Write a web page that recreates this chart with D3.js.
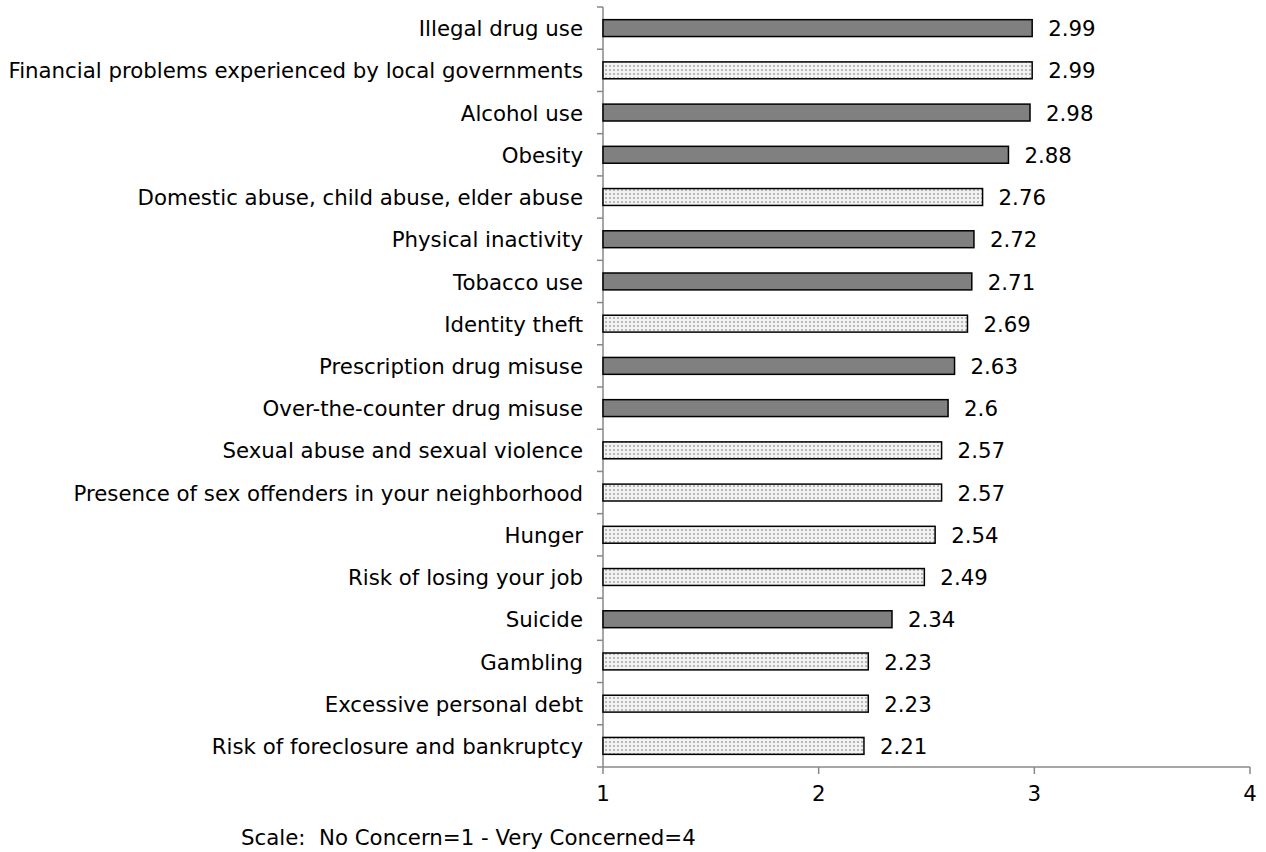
<!DOCTYPE html>
<html><head><meta charset="utf-8">
<script src="https://cdn.jsdelivr.net/npm/d3@7"></script>
<style>body{margin:0;background:#fff}svg{display:block}text{font-family:"DejaVu Sans",Verdana,sans-serif}</style>
</head><body><svg id="c" width="1266" height="852"></svg>
<script>
const categories = ["Illegal drug use","Financial problems experienced by local governments","Alcohol use","Obesity","Domestic abuse, child abuse, elder abuse","Physical inactivity","Tobacco use","Identity theft","Prescription drug misuse","Over-the-counter drug misuse","Sexual abuse and sexual violence","Presence of sex offenders in your neighborhood","Hunger","Risk of losing your job","Suicide","Gambling","Excessive personal debt","Risk of foreclosure and bankruptcy"];
const values = [2.99,2.99,2.98,2.88,2.76,2.72,2.71,2.69,2.63,2.6,2.57,2.57,2.54,2.49,2.34,2.23,2.23,2.21];
const kinds = ["solid","dotted","solid","solid","dotted","solid","solid","dotted","solid","solid","dotted","dotted","dotted","dotted","solid","dotted","dotted","dotted"];
const xTicks = [1,2,3,4];
const footnote = "Scale:\u00a0\u00a0No Concern=1 - Very Concerned=4";

const FS = 21.3;
const svg = d3.select("#c");
const defs = svg.append("defs");
const pat = defs.append("pattern").attr("id","dots").attr("patternUnits","userSpaceOnUse").attr("width",4).attr("height",4);
pat.append("rect").attr("width",4).attr("height",4).attr("fill","#f2f2f2");
pat.append("rect").attr("x",1).attr("y",1).attr("width",2).attr("height",2).attr("fill","#b8b8b8");

const x = d3.scaleLinear().domain([1,4]).range([603,1250]);
const y = d3.scaleBand().domain(categories).range([7,767]).paddingInner(0.6).paddingOuter(0.3);
const yb = d3.scaleBand().domain(categories).range([7,767]);

const axisColor = "#888";
svg.append("line").attr("x1",x(1)).attr("x2",x(1)).attr("y1",7).attr("y2",767).attr("stroke",axisColor).attr("stroke-width",1.5);
const bounds = categories.map(c=>yb(c)).concat([767]);
svg.selectAll(".yt").data(bounds).enter().append("line")
  .attr("x1",x(1)-6).attr("x2",x(1)).attr("y1",d=>d).attr("y2",d=>d).attr("stroke",axisColor).attr("stroke-width",1.5);
svg.append("line").attr("x1",x(1)).attr("x2",x(4)).attr("y1",767).attr("y2",767).attr("stroke",axisColor).attr("stroke-width",1.5);
svg.selectAll(".xt").data(xTicks).enter().append("line")
  .attr("x1",d=>x(d)).attr("x2",d=>x(d)).attr("y1",767).attr("y2",774).attr("stroke",axisColor).attr("stroke-width",1.5);
svg.selectAll(".xl").data(xTicks).enter().append("text")
  .attr("x",d=>x(d)).attr("y",801).attr("text-anchor","middle").attr("font-size",FS).attr("fill","#000").text(d=>d);

svg.selectAll(".bar").data(categories).enter().append("rect")
  .attr("x",x(1)).attr("y",d=>y(d)).attr("height",y.bandwidth())
  .attr("width",(d,i)=>x(values[i])-x(1))
  .attr("fill",(d,i)=>kinds[i]==="solid"?"#808080":"url(#dots)")
  .attr("stroke","#000").attr("stroke-width",1.5);

svg.selectAll(".cl").data(categories).enter().append("text")
  .attr("x",583).attr("y",d=>yb(d)+yb.bandwidth()/2).attr("dy","0.38em")
  .attr("text-anchor","end").attr("font-size",FS).attr("fill","#000").text(d=>d);
svg.selectAll(".vl").data(categories).enter().append("text")
  .attr("x",(d,i)=>x(values[i])+16).attr("y",d=>yb(d)+yb.bandwidth()/2).attr("dy","0.38em")
  .attr("font-size",FS).attr("fill","#000").text((d,i)=>values[i]);

svg.append("text").attr("x",241).attr("y",845).attr("font-size",FS).attr("fill","#000").text(footnote);
</script></body></html>
